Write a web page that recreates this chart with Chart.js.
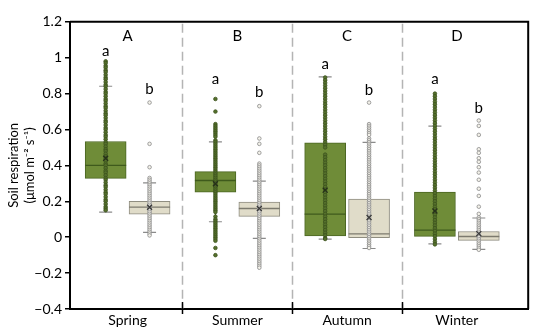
<!DOCTYPE html>
<html><head><meta charset="utf-8">
<script src="https://cdn.jsdelivr.net/npm/chart.js@4/dist/chart.umd.min.js"></script>
<style>html,body{margin:0;padding:0;background:#fff}#wrap{width:550px;height:331px}</style>
</head><body><div id="wrap"><canvas id="c"></canvas></div>
<script>
// ---------- data ----------
const seasons = ['Spring', 'Summer', 'Autumn', 'Winter'];
const groupLetters = ['A', 'B', 'C', 'D'];
const greenLetters = ['a', 'a', 'a', 'a'];
const beigeLetters = ['b', 'b', 'b', 'b'];
const greenLetterY = [1.037, 0.882, 0.963, 0.882];
const beigeLetterY = [0.824, 0.807, 0.818, 0.717];
const groupLetterY = 1.118;

// green series box statistics
const greenLow    = [0.14, 0.086, -0.011, -0.037];
const greenQ1     = [0.328, 0.251, 0.007, 0.0];
const greenMedian = [0.40, 0.316, 0.128, 0.039];
const greenQ3     = [0.533, 0.365, 0.526, 0.251];
const greenHigh   = [0.841, 0.531, 0.893, 0.619];
const greenMean   = [0.44, 0.298, 0.262, 0.146];
// beige series box statistics
const beigeLow    = [0.027, -0.007, -0.063, -0.068];
const beigeQ1     = [0.128, 0.116, -0.002, -0.018];
const beigeMedian = [0.167, 0.16, 0.018, 0.004];
const beigeQ3     = [0.20, 0.196, 0.212, 0.032];
const beigeHigh   = [0.303, 0.312, 0.528, 0.107];
const beigeMean   = [0.167, 0.16, 0.11, 0.02];

const greenSpring = [0.98,0.97,0.955,0.945,0.93,0.92,0.905,0.89,0.88,0.865,0.85,0.84,0.825,0.81,0.8,0.785,0.77,0.76,0.745,0.73,0.72,0.705,0.69,0.68,0.665,0.65,0.64,0.625,0.61,0.6,0.585,0.57,0.56,0.545,0.53,0.52,0.505,0.49,0.48,0.465,0.45,0.44,0.425,0.41,0.4,0.385,0.37,0.36,0.345,0.33,0.32,0.305,0.29,0.28,0.265,0.25,0.24,0.225,0.21,0.2,0.185,0.17,0.16,0.15];
const beigeSpring = [0.75,0.52,0.39,0.33,0.32,0.31,0.30,0.29,0.28,0.27,0.26,0.25,0.24,0.23,0.22,0.21,0.20,0.19,0.18,0.17,0.16,0.15,0.14,0.13,0.12,0.11,0.10,0.09,0.08,0.07,0.06,0.05,0.04,0.03,0.02,0.01];
const greenSummer = [0.77,0.70,0.63,0.62,0.61,0.60,0.59,0.58,0.57,0.56,0.54,0.53,0.52,0.51,0.50,0.49,0.48,0.47,0.46,0.45,0.44,0.43,0.42,0.41,0.40,0.39,0.38,0.37,0.36,0.35,0.34,0.33,0.32,0.31,0.30,0.29,0.28,0.27,0.26,0.25,0.24,0.23,0.22,0.21,0.20,0.19,0.18,0.17,0.16,0.15,0.14,0.115,0.10,0.09,0.08,0.07,0.06,0.05,0.04,0.03,0.02,0.01,0.0,-0.01,-0.02,-0.06,-0.10];
const beigeSummer = [0.73,0.55,0.52,0.47,0.41,0.40,0.39,0.38,0.37,0.36,0.35,0.34,0.33,0.32,0.31,0.30,0.29,0.28,0.27,0.26,0.25,0.24,0.23,0.22,0.21,0.20,0.19,0.18,0.17,0.16,0.15,0.14,0.13,0.12,0.11,0.10,0.09,0.08,0.07,0.06,0.05,0.04,0.03,0.02,0.01,0.0,-0.01,-0.02,-0.03,-0.04,-0.05,-0.06,-0.07,-0.08,-0.09,-0.10,-0.11,-0.12,-0.13,-0.14,-0.15,-0.16,-0.17];
const greenAutumn = [0.89,0.875,0.86,0.845,0.83,0.815,0.80,0.785,0.77,0.755,0.74,0.725,0.71,0.695,0.68,0.665,0.65,0.635,0.62,0.605,0.59,0.575,0.56,0.545,0.53,0.515,0.50,0.46,0.445,0.43,0.415,0.40,0.385,0.37,0.355,0.34,0.325,0.31,0.295,0.28,0.265,0.25,0.235,0.22,0.205,0.19,0.175,0.16,0.145,0.13,0.115,0.10,0.085,0.07,0.055,0.04,0.025,0.01,-0.005,-0.01];
const beigeAutumn = [0.75,0.63,0.62,0.61,0.60,0.59,0.58,0.57,0.55,0.54,0.53,0.52,0.51,0.50,0.49,0.48,0.47,0.46,0.45,0.44,0.43,0.42,0.41,0.40,0.39,0.38,0.37,0.36,0.35,0.34,0.33,0.32,0.31,0.30,0.29,0.28,0.27,0.26,0.25,0.24,0.23,0.22,0.21,0.20,0.19,0.18,0.17,0.16,0.15,0.14,0.13,0.12,0.11,0.10,0.09,0.08,0.07,0.06,0.05,0.04,0.03,0.02,0.01,0.0,-0.01,-0.02,-0.03,-0.04,-0.05,-0.06];
const greenWinter = [0.80,0.785,0.77,0.755,0.74,0.725,0.71,0.695,0.68,0.665,0.65,0.635,0.62,0.605,0.59,0.575,0.56,0.545,0.53,0.515,0.50,0.485,0.47,0.455,0.44,0.425,0.41,0.395,0.38,0.365,0.35,0.335,0.32,0.305,0.29,0.275,0.26,0.245,0.23,0.215,0.20,0.185,0.17,0.155,0.14,0.125,0.11,0.095,0.08,0.065,0.05,0.035,0.02,0.005,-0.01,-0.025,-0.04];
const beigeWinter = [0.65,0.62,0.57,0.49,0.47,0.44,0.42,0.39,0.36,0.32,0.27,0.23,0.17,0.13,0.11,0.10,0.09,0.08,0.07,0.06,0.05,0.04,0.03,0.02,0.01,0.0,-0.01,-0.02,-0.03,-0.04,-0.05,-0.06,-0.07];

const greenObs = [greenSpring, greenSummer, greenAutumn, greenWinter];
const beigeObs = [beigeSpring, beigeSummer, beigeAutumn, beigeWinter];

// ---------- layout helpers ----------
const OFF = 0.2;                       // box offset from category centre (x units)
const pos = (i, s) => i + 0.5 + (s === 0 ? -OFF : OFF);
const FONT = 'Lato, "Open Sans", sans-serif';

const GREEN_FILL = '#6f8c38', GREEN_EDGE = '#4b6622', GREEN_PT = '#55702c', GREEN_PT_EDGE = '#3b521c';
const BEIGE_FILL = '#e0dcc9', BEIGE_EDGE = '#8f8d80', BEIGE_PT = '#f4f2ea', BEIGE_PT_EDGE = '#8a8a8a';

function boxes(s, q1, q3) { return seasons.map((_, i) => ({ x: pos(i, s), y: [q1[i], q3[i]] })); }
function atStat(s, arr) { return seasons.map((_, i) => ({ x: pos(i, s), y: arr[i] })); }
function caps(s, lo, hi) { return seasons.flatMap((_, i) => [{ x: pos(i, s), y: lo[i] }, { x: pos(i, s), y: hi[i] }]); }
function stems(s, lo, q1, q3, hi) {
  return seasons.flatMap((_, i) => [
    { x: pos(i, s), y: lo[i] }, { x: pos(i, s), y: q1[i] }, { x: pos(i, s), y: null },
    { x: pos(i, s), y: q3[i] }, { x: pos(i, s), y: hi[i] }, { x: pos(i, s), y: null }]);
}
function obs(s, lists) { return lists.flatMap((vals, i) => vals.map(v => ({ x: pos(i, s), y: v }))); }

const fmt = v => { const r = Math.round(v * 10) / 10; return (r < 0 ? '\u2212' : '') + String(Math.abs(r)); };

const deco = {
  id: 'deco',
  beforeDatasetsDraw(chart) {
    const { ctx, chartArea: a, scales: { x } } = chart;
    ctx.save();
    ctx.strokeStyle = '#b4b4b4'; ctx.lineWidth = 1.5; ctx.setLineDash([9, 5]);
    for (let i = 1; i < seasons.length; i++) {
      const px = Math.round(x.getPixelForValue(i)) + 0.5;
      ctx.beginPath(); ctx.moveTo(px, a.top + 2); ctx.lineTo(px, a.bottom); ctx.stroke();
    }
    ctx.restore();
  },
  afterDraw(chart) {
    const { ctx, chartArea: a, scales: { x, y } } = chart;
    ctx.save();
    ctx.strokeStyle = '#000'; ctx.lineWidth = 2;
    ctx.beginPath(); ctx.moveTo(a.left, a.top); ctx.lineTo(a.right, a.top); ctx.lineTo(a.right, a.bottom); ctx.stroke();
    ctx.lineWidth = 1.5;
    for (let i = 1; i < seasons.length; i++) {
      const px = Math.round(x.getPixelForValue(i)) + 0.5;
      ctx.beginPath(); ctx.moveTo(px, a.bottom - 7); ctx.lineTo(px, a.bottom + 5); ctx.stroke();
    }
    ctx.fillStyle = '#000'; ctx.textAlign = 'center'; ctx.textBaseline = 'middle';
    ctx.font = '15px ' + FONT;
    seasons.forEach((_, i) => {
      ctx.fillText(groupLetters[i], x.getPixelForValue(i + 0.5), y.getPixelForValue(groupLetterY));
      ctx.fillText(greenLetters[i], x.getPixelForValue(pos(i, 0)), y.getPixelForValue(greenLetterY[i]));
      ctx.fillText(beigeLetters[i], x.getPixelForValue(pos(i, 1)), y.getPixelForValue(beigeLetterY[i]));
    });
    ctx.restore();
  }
};

new Chart(document.getElementById('c'), {
  type: 'bar',
  data: {
    datasets: [
      { type: 'scatter', order: 1, data: atStat(0, greenMean), pointStyle: 'crossRot', pointRadius: 3.5, pointBorderWidth: 1.3, pointBorderColor: '#26301a', pointBackgroundColor: 'transparent' },
      { type: 'scatter', order: 1, data: atStat(1, beigeMean), pointStyle: 'crossRot', pointRadius: 3.5, pointBorderWidth: 1.3, pointBorderColor: '#3a3a3a', pointBackgroundColor: 'transparent' },
      { type: 'scatter', order: 2, data: obs(0, greenObs), pointRadius: 1.8, pointBorderWidth: 0.8, pointBackgroundColor: GREEN_PT, pointBorderColor: GREEN_PT_EDGE },
      { type: 'scatter', order: 2, data: obs(1, beigeObs), pointRadius: 1.8, pointBorderWidth: 0.8, pointBackgroundColor: BEIGE_PT, pointBorderColor: BEIGE_PT_EDGE },
      { type: 'scatter', order: 3, data: atStat(0, greenMedian), pointStyle: 'line', pointRadius: 20.5, pointBorderWidth: 1.3, pointBorderColor: '#3f5a1c' },
      { type: 'scatter', order: 3, data: atStat(1, beigeMedian), pointStyle: 'line', pointRadius: 20.5, pointBorderWidth: 1.3, pointBorderColor: '#7c7a6e' },
      { type: 'scatter', order: 4, data: caps(0, greenLow, greenHigh), pointStyle: 'line', pointRadius: 6.5, pointBorderWidth: 1.2, pointBorderColor: '#8a8a8a' },
      { type: 'scatter', order: 4, data: caps(1, beigeLow, beigeHigh), pointStyle: 'line', pointRadius: 6.5, pointBorderWidth: 1.2, pointBorderColor: '#8a8a8a' },
      { type: 'scatter', order: 4, data: stems(0, greenLow, greenQ1, greenQ3, greenHigh), showLine: true, spanGaps: false, borderColor: GREEN_PT_EDGE, borderWidth: 1, pointRadius: 0 },
      { type: 'scatter', order: 4, data: stems(1, beigeLow, beigeQ1, beigeQ3, beigeHigh), showLine: true, spanGaps: false, borderColor: '#8a8a8a', borderWidth: 1, pointRadius: 0 },
      { type: 'bar', order: 5, data: boxes(0, greenQ1, greenQ3), backgroundColor: GREEN_FILL, borderColor: GREEN_EDGE, borderWidth: 1, borderSkipped: false, barThickness: 41, grouped: false },
      { type: 'bar', order: 5, data: boxes(1, beigeQ1, beigeQ3), backgroundColor: BEIGE_FILL, borderColor: BEIGE_EDGE, borderWidth: 1, borderSkipped: false, barThickness: 41, grouped: false }
    ]
  },
  options: {
    responsive: true, maintainAspectRatio: false, animation: false, devicePixelRatio: 1, events: [],
    layout: { padding: { top: 10, right: 7, left: 2, bottom: 0 } },
    plugins: { legend: { display: false }, tooltip: { enabled: false } },
    scales: {
      x: {
        type: 'linear', min: -0.025, max: 4.15, offset: false,
        afterBuildTicks: s => { s.ticks = seasons.map((_, i) => ({ value: i + 0.5 })); },
        afterFit: s => { s.height = 22; },
        ticks: { callback: (v, i) => seasons[i], autoSkip: false, maxRotation: 0, color: '#000', font: { family: FONT, size: 14 }, padding: 3 },
        grid: { display: false, drawTicks: false, offset: false },
        border: { display: true, color: '#000', width: 2 }
      },
      y: {
        type: 'linear', min: -0.4, max: 1.2,
        afterFit: s => { s.width = 68; },
        ticks: { stepSize: 0.2, callback: v => fmt(v), color: '#000', font: { family: FONT, size: 14 }, padding: 3 },
        grid: { drawOnChartArea: false, drawTicks: true, tickLength: 5, color: '#000', lineWidth: 1.5 },
        border: { display: true, color: '#000', width: 2 },
        title: { display: true, text: ['Soil respiration', '(\u03bcmol m\u207b\u00b2 s\u207b\u00b9)'], color: '#000', font: { family: FONT, size: 13 }, padding: 4 }
      }
    }
  },
  plugins: [deco]
});
</script>
</body></html>
